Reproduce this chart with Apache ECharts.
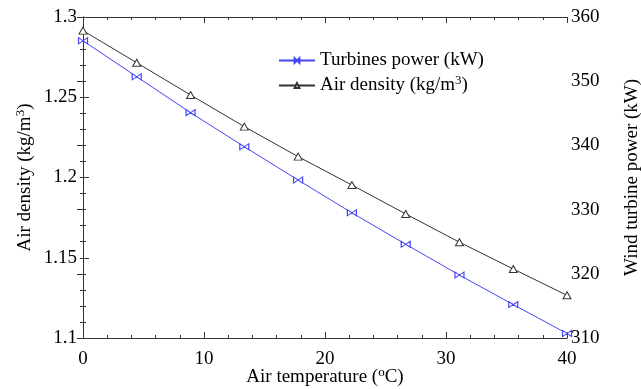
<!DOCTYPE html>
<html>
<head>
<meta charset="utf-8">
<script src="https://cdn.jsdelivr.net/npm/echarts@6/dist/echarts.min.js"></script>
<style>
  html, body { margin: 0; padding: 0; background: #fff; }
  #chart { width: 641px; height: 389px; }
</style>
</head>
<body>
<div id="chart"></div>
<script>
// air temperature (°C)
var temperature = [0, 4.44, 8.89, 13.33, 17.78, 22.22, 26.67, 31.11, 35.56, 40];
// air density (kg/m3), left axis
var airDensity = [1.2915, 1.2715, 1.2514, 1.2317, 1.2130, 1.1953, 1.1773, 1.1597, 1.1430, 1.1266];
// turbines power (kW), right axis
var turbinePower = [356.3, 350.7, 345.1, 339.8, 334.6, 329.5, 324.6, 319.8, 315.2, 310.7];

var FONT = '"Liberation Serif", "Times New Roman", serif';
var AXIS_COLOR = '#333';

function pairs(xs, ys) {
  var out = [];
  for (var i = 0; i < xs.length; i++) out.push([xs[i], ys[i]]);
  return out;
}

// superscript: smaller text lifted by bottom padding
var supRich = {
  a: { fontFamily: FONT, fontSize: 19, color: '#000' },
  s: { fontFamily: FONT, fontSize: 13, color: '#000', padding: [0, 0, 10, 0] }
};

var axisLine = { show: true, lineStyle: { color: AXIS_COLOR, width: 1 } };
var axisTick = { show: true, inside: true, length: 6, lineStyle: { color: AXIS_COLOR } };
function minor(n) {
  return { show: true, splitNumber: n, length: 3, lineStyle: { color: AXIS_COLOR } };
}

var myChart = echarts.init(document.getElementById('chart'));

var option = {
  animation: false,
  backgroundColor: '#fff',
  grid: { left: 83, right: 74, top: 17, bottom: 51, outerBoundsMode: 'none' },
  legend: {
    orient: 'vertical',
    left: 278,
    top: 51,
    padding: 0,
    itemWidth: 36,
    itemHeight: 6,
    itemGap: 4,
    textStyle: { fontFamily: FONT, fontSize: 19, color: '#000', rich: supRich },
    formatter: function (name) {
      if (name === 'Air density') return '{a|Air density (kg/m}{s|3}{a|)}';
      return '{a|' + name + ' (kW)}';
    },
    data: ['Turbines power', 'Air density']
  },
  xAxis: [
    {
      type: 'value', min: 0, max: 40, interval: 10,
      name: '{a|Air temperature (}{s|o}{a|C)}',
      nameLocation: 'middle', nameGap: 28, nameMoveOverlap: false,
      nameTextStyle: { rich: supRich },
      axisLine: axisLine, axisTick: axisTick, minorTick: minor(5),
      splitLine: { show: false },
      axisLabel: { fontFamily: FONT, fontSize: 19, color: '#000', margin: 12 }
    },
    {
      type: 'value', position: 'top', min: 0, max: 40, interval: 10,
      axisLine: axisLine, axisTick: axisTick, minorTick: minor(5),
      axisLabel: { show: false }, splitLine: { show: false }
    }
  ],
  yAxis: [
    {
      type: 'value', position: 'left', min: 1.1, max: 1.3, interval: 0.05,
      name: '{a|Air density (kg/m}{s|3}{a|)}',
      nameLocation: 'middle', nameGap: 46, nameRotate: 90, nameMoveOverlap: false,
      nameTextStyle: { rich: supRich },
      axisLine: axisLine, axisTick: axisTick, minorTick: minor(5),
      splitLine: { show: false },
      axisLabel: { fontFamily: FONT, fontSize: 19, color: '#000', margin: 6 }
    },
    {
      type: 'value', position: 'right', min: 310, max: 360, interval: 10,
      name: 'Wind turbine power (kW)',
      nameLocation: 'middle', nameGap: 56, nameRotate: 90, nameMoveOverlap: false,
      nameTextStyle: { fontFamily: FONT, fontSize: 19, color: '#000' },
      axisLine: axisLine, axisTick: axisTick, minorTick: minor(4),
      splitLine: { show: false },
      axisLabel: { fontFamily: FONT, fontSize: 19, color: '#000', margin: 4 }
    }
  ],
  series: [
    {
      name: 'Turbines power',
      type: 'line',
      yAxisIndex: 1,
      data: pairs(temperature, turbinePower),
      symbol: 'path://M0,0L10,5L0,10ZM20,0L10,5L20,10Z',
      symbolSize: [9, 6],
      showAllSymbol: true,
      lineStyle: { color: '#4646f5', width: 1 },
      itemStyle: { color: '#fff', borderColor: '#4646f5', borderWidth: 1 }
    },
    {
      name: 'Air density',
      type: 'line',
      yAxisIndex: 0,
      data: pairs(temperature, airDensity),
      symbol: 'triangle',
      symbolSize: [8, 7],
      showAllSymbol: true,
      lineStyle: { color: '#333', width: 1 },
      itemStyle: { color: '#fff', borderColor: '#333', borderWidth: 1 }
    }
  ]
};

myChart.setOption(option);
</script>
</body>
</html>
